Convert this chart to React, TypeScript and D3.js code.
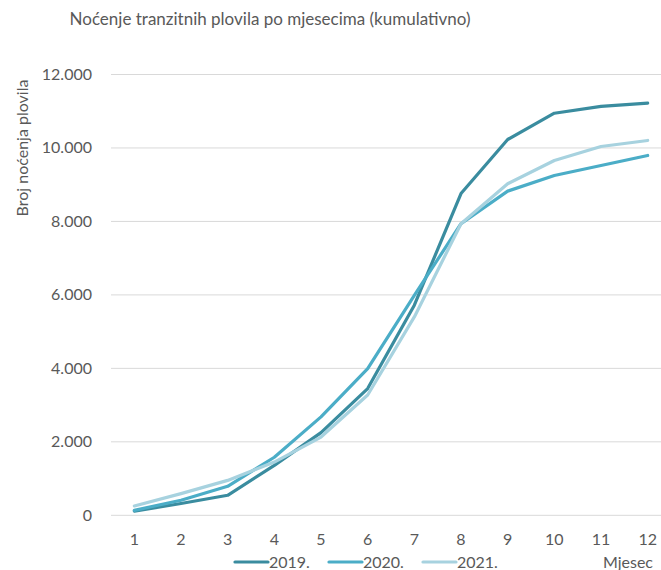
import React from "react";
import * as d3 from "d3";

const months = [1, 2, 3, 4, 5, 6, 7, 8, 9, 10, 11, 12];
const s2019 = [115, 320, 545, 1360, 2250, 3450, 5720, 8760, 10230, 10946, 11130, 11220];
const s2020 = [135, 410, 790, 1580, 2680, 3995, 5990, 7937, 8825, 9252, 9524, 9796];
const s2021 = [255, 590, 950, 1450, 2130, 3275, 5400, 7937, 9025, 9660, 10040, 10204];
const seriesNames = ["2019.", "2020.", "2021."];
const colors = ["#3A8C9F", "#4BADC7", "#A7D2DF"];
const yTicks = [0, 2000, 4000, 6000, 8000, 10000, 12000];
const title = "Noćenje tranzitnih plovila po mjesecima (kumulativno)";
const yTitle = "Broj noćenja plovila";
const xTitle = "Mjesec";

const W = 661;
const H = 570;
const FONT = "Lato, 'Open Sans', sans-serif";

export default function App() {
  const plotL = 111;
  const plotR = 671;
  const plotT = 74.5;
  const plotB = 515.3;
  const x = d3.scaleBand<number>().domain(months).range([plotL, plotR]);
  const y = d3.scaleLinear().domain([0, 12000]).range([plotB, plotT]);
  const cx = (m: number) => (x(m) as number) + x.bandwidth() / 2;
  const line = d3
    .line<number>()
    .x((_, i) => cx(months[i]))
    .y((v) => y(v));
  const fmt = (v: number) => (v === 0 ? "0" : d3.format(",")(v).replace(/,/g, "."));
  const series = [s2019, s2020, s2021];
  const legendX = [235, 329, 423];

  return (
    <svg
      width={W}
      height={H}
      style={{ position: "absolute", left: 0, top: 0, background: "#fff" }}
      fontFamily={FONT}
    >
      <rect x={0} y={0} width={W} height={H} fill="#fff" />
      <text x={270} y={25} textAnchor="middle" fontSize={17} fill="#595959">
        {title}
      </text>
      {yTicks.map((t) => (
        <g key={t}>
          <line x1={plotL} x2={plotR} y1={y(t)} y2={y(t)} stroke="#d9d9d9" strokeWidth={1} />
          <text x={92} y={y(t) + 5.5} textAnchor="end" fontSize={16} fill="#595959">
            {fmt(t)}
          </text>
        </g>
      ))}
      <text
        transform={`translate(28,148) rotate(-90)`}
        textAnchor="middle"
        fontSize={16}
        fill="#595959"
      >
        {yTitle}
      </text>
      {months.map((m) => (
        <text key={m} x={cx(m)} y={545} textAnchor="middle" fontSize={16} fill="#595959">
          {m}
        </text>
      ))}
      {[0, 1, 2].map((i) => (
        <path
          key={i}
          d={line(series[i]) as string}
          fill="none"
          stroke={colors[i]}
          strokeWidth={3.2}
          strokeLinejoin="round"
          strokeLinecap="round"
        />
      ))}
      {seriesNames.map((n, i) => (
        <g key={n}>
          <line
            x1={legendX[i]}
            x2={legendX[i] + 33}
            y1={562}
            y2={562}
            stroke={colors[i]}
            strokeWidth={3.2}
            strokeLinecap="round"
          />
          <text x={legendX[i] + 34} y={567.5} fontSize={16} fill="#595959">
            {n}
          </text>
        </g>
      ))}
      <text x={653} y={567.5} textAnchor="end" fontSize={16} fill="#595959">
        {xTitle}
      </text>
    </svg>
  );
}
